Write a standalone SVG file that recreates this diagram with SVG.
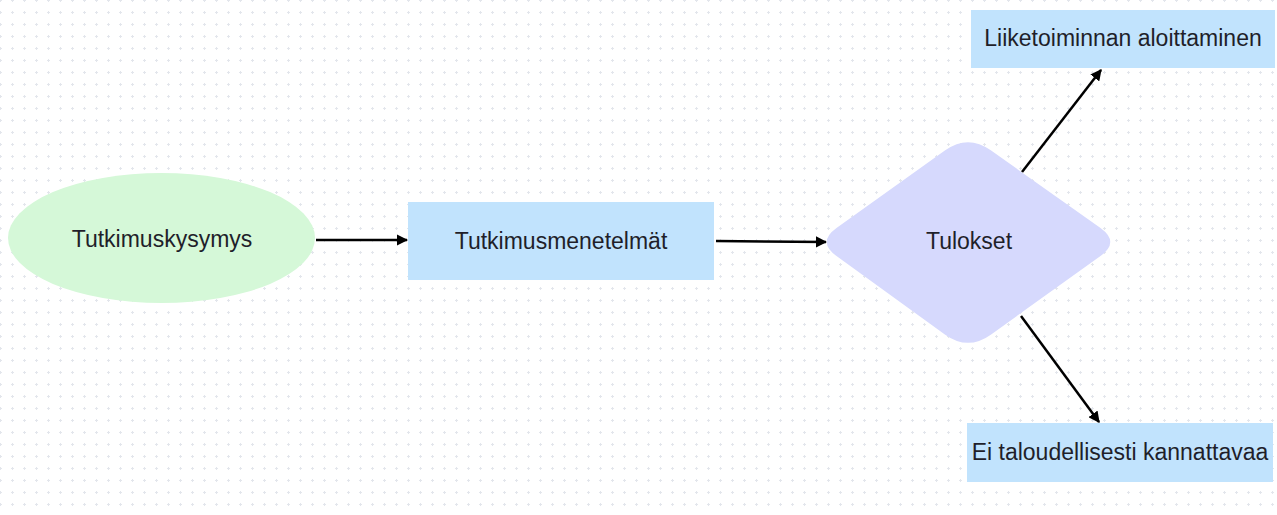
<svg xmlns="http://www.w3.org/2000/svg" width="1277" height="515" viewBox="0 0 1277 515">
  <defs>
    <pattern id="grid" x="0" y="0" width="12" height="12" patternUnits="userSpaceOnUse">
      <rect x="-1" y="0" width="3" height="1" fill="#e3e6ec"/>
      <rect x="0" y="-1" width="1" height="3" fill="#e3e6ec"/>
      <rect x="11" y="0" width="2" height="1" fill="#e3e6ec"/>
      <rect x="0" y="11" width="1" height="2" fill="#e3e6ec"/>
    </pattern>
    <marker id="arrow" viewBox="0 0 10 10" refX="9" refY="5" markerWidth="4.5" markerHeight="4.5" orient="auto" markerUnits="strokeWidth">
      <path d="M0,0 L10,5 L0,10 Z" fill="#000"/>
    </marker>
    <style>
      .label { font-family: "Liberation Sans", Arial, sans-serif; font-size: 23px; fill: #1f1f2a; text-anchor: middle; }
      .conn { stroke: #000; stroke-width: 2.5; fill: none; marker-end: url(#arrow); }
      .box { fill: #c1e3fd; }
    </style>
  </defs>
  <rect width="1277" height="515" fill="#ffffff"/>
  <rect width="1277" height="515" fill="url(#grid)"/>

  <g id="connectors">
    <line class="conn" x1="316" y1="240" x2="407" y2="240"/>
    <line class="conn" x1="716" y1="241" x2="826" y2="242"/>
    <line class="conn" x1="1022" y1="172" x2="1101" y2="70"/>
    <line class="conn" x1="1021" y1="316" x2="1099" y2="422"/>
  </g>

  <g id="node-tutkimuskysymys">
    <ellipse cx="161.5" cy="238" rx="153.5" ry="65" fill="#d5f8d8"/>
    <text class="label" x="162" y="247">Tutkimuskysymys</text>
  </g>

  <g id="node-tutkimusmenetelmat">
    <rect class="box" x="408" y="202" width="306" height="78"/>
    <text class="label" x="561" y="249">Tutkimusmenetelmät</text>
  </g>

  <g id="node-tulokset">
    <path d="M945.2,150.3 Q968,134 990.8,150.3 L1100.5,228 Q1120,242 1100.5,256 L990.8,334.7 Q968,351 945.2,334.7 L836.5,256 Q817,242 836.5,228 Z" fill="#d6d9fd"/>
    <text class="label" x="969" y="249">Tulokset</text>
  </g>

  <g id="node-liiketoiminnan">
    <rect class="box" x="971" y="10" width="304" height="58"/>
    <text class="label" x="1123" y="46">Liiketoiminnan aloittaminen</text>
  </g>

  <g id="node-ei-taloudellisesti">
    <rect class="box" x="967" y="423" width="306" height="59"/>
    <text class="label" x="1120" y="460">Ei taloudellisesti kannattavaa</text>
  </g>
</svg>
